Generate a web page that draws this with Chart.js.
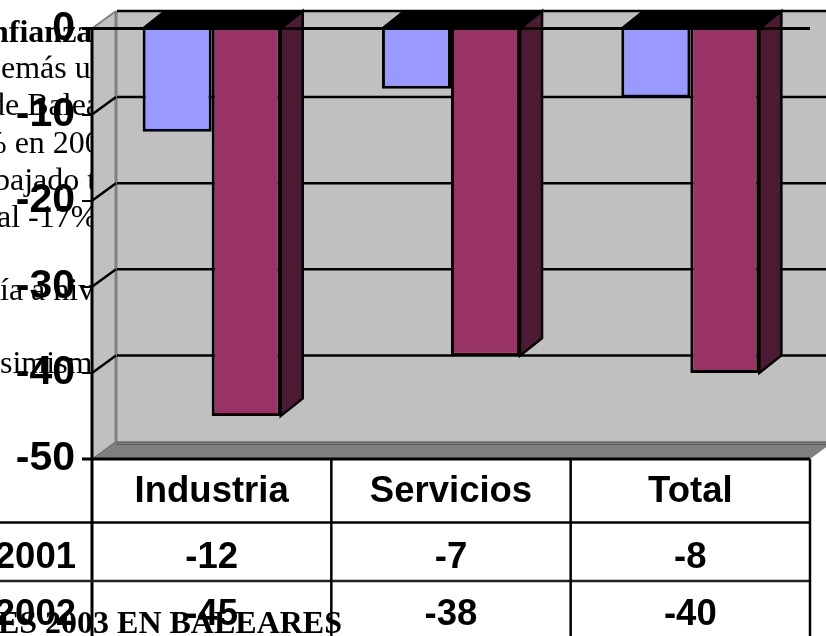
<!DOCTYPE html>
<html><head><meta charset="utf-8">
<style>html,body{margin:0;padding:0;background:#fff;overflow:hidden}canvas{display:block}</style>
<script src="https://cdn.jsdelivr.net/npm/chart.js@4"></script></head>
<body><canvas id="c" width="826" height="636"></canvas>
<script>
const categories = ["Industria","Servicios","Total"];
const values2001 = [-12,-7,-8];
const values2002 = [-45,-38,-40];
const seriesNames = ["2001","2002"];
const behindText = ["nfianza","emás u","de Baleares","% en 200","bajado t","al -17%","ía a niv","simismo"];
const behindBold = [true,false,false,false,false,false,false,false];
const behindX = [-9,1,-11,-20,-6,-3,0,0];
const behindY = [42,78,115,153,190,227,300,373];
const footerText = "ES 2003 EN BALEARES";
const DX=24, DY=-17.5, BDX=22;
function poly(ctx,pts,fill,stroke,lw){ctx.beginPath();pts.forEach((p,i)=>i?ctx.lineTo(p[0],p[1]):ctx.moveTo(p[0],p[1]));ctx.closePath();
 if(fill){ctx.fillStyle=fill;ctx.fill();} if(stroke){ctx.strokeStyle=stroke;ctx.lineWidth=lw;ctx.stroke();}}
function line(ctx,a,b,c,d,col,lw){ctx.beginPath();ctx.moveTo(a,b);ctx.lineTo(c,d);ctx.strokeStyle=col;ctx.lineWidth=lw;ctx.stroke();}
const scene={id:'scene',
 beforeDraw(ch){const ctx=ch.ctx;ctx.save();ctx.fillStyle='#000';ctx.textBaseline='alphabetic';ctx.textAlign='left';
  behindText.forEach((t,i)=>{ctx.font=(behindBold[i]?'bold ':'')+'32px "Liberation Serif"';ctx.fillText(t,behindX[i],behindY[i]);});ctx.restore();},
 beforeDatasetsDraw(ch){const ctx=ch.ctx,a=ch.chartArea,y=ch.scales.y;ctx.save();
  const L=a.left,R=a.right,T=a.top,B=a.bottom,W=ch.width;
  poly(ctx,[[L,T],[L+DX,T+DY],[W,T+DY],[W,B+DY],[L+DX,B+DY],[L,B]],'#c0c0c0');
  poly(ctx,[[L,B],[L+DX,B+DY],[R+DX,B+DY],[R,B]],'#808080');
  line(ctx,L+DX,B+DY+0.5,W,B+DY+0.5,'#505050',1);
  line(ctx,L+DX,B+DY+3,W,B+DY+3,'#5c5c5c',1);
  line(ctx,L,B,L+DX,B+DY,'#606060',1);
  line(ctx,L,T,L+DX,T+DY,'#808080',2);
  line(ctx,L+DX,T+DY,L+DX,B+DY,'#808080',3);
  y.ticks.forEach(t=>{const p=y.getPixelForValue(t.value);
    if(t.value===-50)return;
    if(t.value!==0)line(ctx,L,p,L+DX,p+DY,'#000',2.5);
    line(ctx,L+DX+1,p+DY,W,p+DY,'#000',2.5);});
  const m0=ch.getDatasetMeta(0).data,m1=ch.getDatasetMeta(1).data;
  categories.forEach((c,i)=>{const left=m0[i].x-m0[i].width/2,right=m1[i].x+m1[i].width/2,top=y.getPixelForValue(0),bot=m1[i].y;
    poly(ctx,[[left,top],[left+BDX,top+DY],[right+BDX,top+DY],[right,top]],'#000','#000',2);
    poly(ctx,[[right,top],[right+BDX,top+DY],[right+BDX,bot+DY],[right,bot]],'#4d1a33','#000',2.5);});
  ctx.restore();},
 afterDatasetsDraw(ch){const ctx=ch.ctx,a=ch.chartArea,x=ch.scales.x;ctx.save();
  const L=a.left,R=a.right,T=a.top,B=a.bottom;
  line(ctx,L-10,T,R,T,'#000',3);
  line(ctx,L,T,L,ch.height,'#000',3);
  line(ctx,L-10,B,R,B,'#000',3);
  line(ctx,0,522.5,R,522.5,'#000',2.5);
  line(ctx,0,581,R,581,'#222',2.5);
  categories.forEach((c,i)=>{const e=x.getPixelForValue(i)+(R-L)/categories.length/2;line(ctx,e,B,e,ch.height,'#000',2.5);});
  ctx.fillStyle='#000';ctx.font='bold 36.5px "Liberation Sans"';ctx.textBaseline='alphabetic';
  ctx.textAlign='right';
  ctx.fillText(seriesNames[0],76,568);ctx.fillText(seriesNames[1],76,625);
  ctx.textAlign='center';
  categories.forEach((c,i)=>{const p=x.getPixelForValue(i);ctx.fillText(String(values2001[i]),p,568);ctx.fillText(String(values2002[i]),p,625);});
  ctx.font='bold 32px "Liberation Serif"';ctx.textAlign='right';ctx.fillText(footerText,342,633);
  ctx.restore();}
};
Chart.defaults.animation=false;
new Chart(document.getElementById('c'),{type:'bar',plugins:[scene],
 data:{labels:categories,datasets:[
  {label:seriesNames[0],data:values2001,backgroundColor:'#9999ff',borderColor:'#000',borderWidth:3,categoryPercentage:0.577,barPercentage:1},
  {label:seriesNames[1],data:values2002,backgroundColor:'#993366',borderColor:'#000',borderWidth:3,categoryPercentage:0.577,barPercentage:1}]},
 options:{responsive:false,animation:false,
  layout:{padding:{top:28.5,right:16,left:0,bottom:0}},
  plugins:{legend:{display:false},tooltip:{enabled:false},title:{display:false}},
  scales:{
   x:{afterFit(s){s.height=177;},grid:{display:false},border:{display:false},
      ticks:{color:'#000',font:{family:'"Liberation Sans"',size:36.5,weight:'bold'},padding:3,maxRotation:0,autoSkip:false}},
   y:{min:-50,max:0,afterFit(s){s.width=92;s.paddingTop=0;s.paddingBottom=0;},border:{display:false},
      grid:{drawOnChartArea:false,drawTicks:true,tickLength:10,color:'#000',lineWidth:2},
      ticks:{stepSize:10,color:'#000',padding:7,font:{family:'"Liberation Sans"',size:41,weight:'bold'}}}
  }}});
</script></body></html>
